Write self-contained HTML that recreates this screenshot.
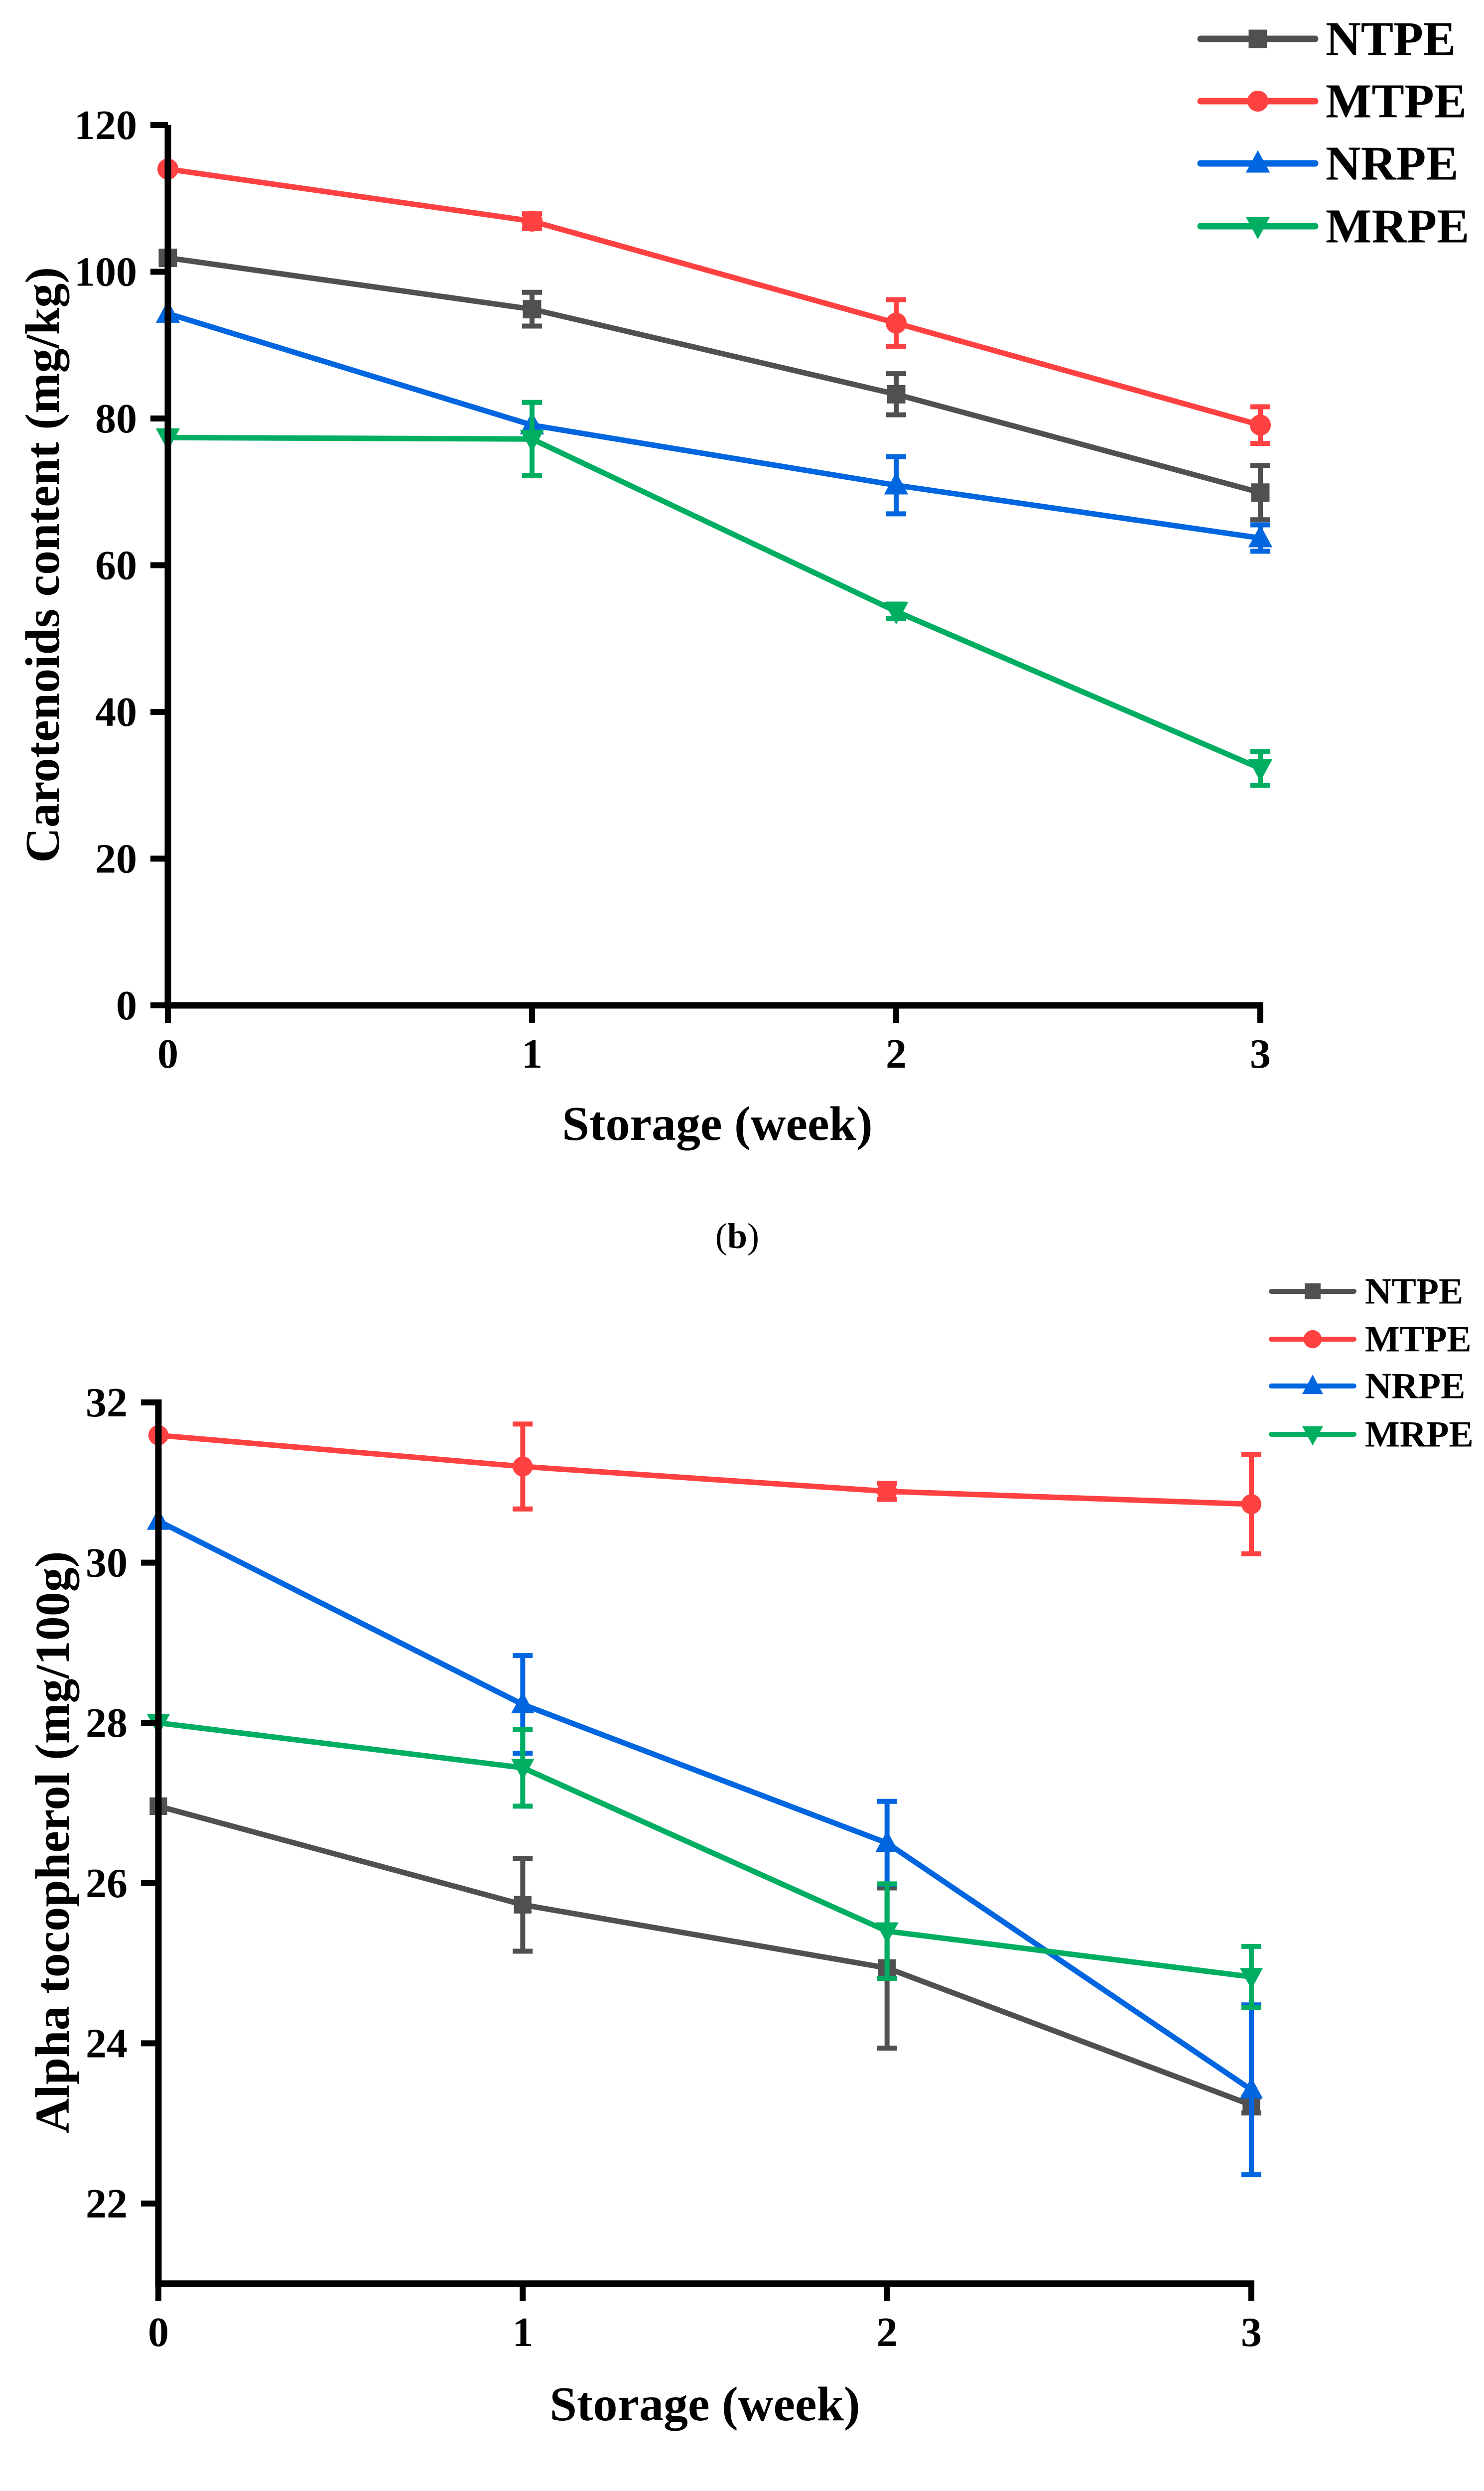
<!DOCTYPE html>
<html><head><meta charset="utf-8">
<style>
html,body{margin:0;padding:0;background:#fff;width:2979px;height:5125px;overflow:hidden;}
svg{display:block;font-family:"Liberation Serif",serif;}
</style></head>
<body>
<svg id="root" width="2979" height="5125" viewBox="0 0 2979 5125" xmlns="http://www.w3.org/2000/svg"></svg>
<script>
const weeks = [0, 1, 2, 3];
const seriesNames = ["NTPE", "MTPE", "NRPE", "MRPE"];
const carotNTPE = [101.9, 94.9, 83.3, 69.9];
const carotNTPEErr = [0, 2.3, 2.8, 3.7];
const carotMTPE = [114.0, 106.9, 93.0, 79.1];
const carotMTPEErr = [0, 1.0, 3.2, 2.5];
const carotNRPE = [94.3, 79.1, 70.9, 63.7];
const carotNRPEErr = [0, 0, 3.9, 1.8];
const carotMRPE = [77.4, 77.2, 53.7, 32.3];
const carotMRPEErr = [0, 5.0, 1.0, 2.3];
const carotTicks = [0, 20, 40, 60, 80, 100, 120];
const tocoNTPE = [26.96, 25.73, 24.94, 23.23];
const tocoNTPEErr = [0, 0.58, 1.0, 0.1];
const tocoMTPE = [31.59, 31.2, 30.89, 30.73];
const tocoMTPEErr = [0, 0.53, 0.1, 0.62];
const tocoNRPE = [30.52, 28.23, 26.5, 23.42];
const tocoNRPEErr = [0, 0.61, 0.52, 1.06];
const tocoMRPE = [28.0, 27.44, 25.4, 24.83];
const tocoMRPEErr = [0, 0.48, 0.59, 0.38];
const tocoTicks = [22, 24, 26, 28, 30, 32];

const NS = "http://www.w3.org/2000/svg";
const root = document.getElementById("root");
const colors = ["#505050", "#ff4141", "#0066e0", "#00ae62"];
const shapes = ["square", "circle", "up", "down"];

function mk(tag, attrs, parent) {
  const e = document.createElementNS(NS, tag);
  for (const k in attrs) e.setAttribute(k, attrs[k]);
  (parent || root).appendChild(e);
  return e;
}
function marker(g, shape, cx, cy, s, color) {
  let m;
  if (shape === "square") m = mk("rect", {x: cx - s*0.42, y: cy - s*0.42, width: s*0.84, height: s*0.84, fill: color}, g);
  else if (shape === "circle") m = mk("circle", {cx: cx, cy: cy, r: s*0.48, fill: color}, g);
  else if (shape === "up") m = mk("polygon", {points: `${cx},${cy - s*0.6} ${cx - s*0.55},${cy + s*0.42} ${cx + s*0.55},${cy + s*0.42}`, fill: color}, g);
  else m = mk("polygon", {points: `${cx},${cy + s*0.6} ${cx - s*0.55},${cy - s*0.42} ${cx + s*0.55},${cy - s*0.42}`, fill: color}, g);
  return m;
}

function chart(cfg) {
  const g = mk("g", {});
  
  
  const xs = v => cfg.x0 + (v - weeks[0]) * (cfg.x3 - cfg.x0) / (weeks[weeks.length-1] - weeks[0]);
  const ys = v => cfg.yA + (v - cfg.vA) * (cfg.yB - cfg.yA) / (cfg.vB - cfg.vA);
  const axTop = ys(cfg.ticks[cfg.ticks.length-1]) - (cfg.topExtra || 0);
  const axBot = ys(cfg.vMin);
  cfg.series.forEach((vals, i) => {
    const sg = mk("g", {}, g);
    
    
    const pts = vals.map((v, j) => xs(weeks[j]) + "," + ys(v)).join(" ");
    const pl = mk("polyline", {points: pts, fill: "none", stroke: colors[i], "stroke-width": 11, "stroke-linejoin": "round"}, sg);
    
    
    vals.forEach((v, j) => {
      const e = cfg.errs[i][j];
      if (e > 0) {
        const x = xs(weeks[j]);
        const eb = mk("path", {d: `M${x},${ys(v-e)}V${ys(v+e)}M${x-20},${ys(v+e)}H${x+20}M${x-20},${ys(v-e)}H${x+20}`, stroke: colors[i], "stroke-width": 10, fill: "none"}, sg);
        
        
      }
      const m = marker(sg, shapes[i], xs(weeks[j]), ys(v), cfg.ms, colors[i]);
      
      
    });
  });
  const ax = mk("path", {d: `M${cfg.x0},${axTop}V${axBot}H${cfg.x3+6}`, stroke: "#000", "stroke-width": 13, fill: "none"}, g);
  
  
  cfg.ticks.forEach(t => {
    const y = ys(t);
    const tk = mk("line", {x1: cfg.x0 - 35, x2: cfg.x0, y1: y, y2: y, stroke: "#000", "stroke-width": 12}, g);
    
    
    const tl = mk("text", {x: cfg.x0 - 62, y: y + 28, "text-anchor": "end", "font-size": 84, "font-weight": "bold"}, g);
    tl.textContent = t;
    
    
  });
  weeks.forEach(w => {
    const x = xs(w);
    const tk = mk("line", {x1: x, x2: x, y1: axBot, y2: axBot + 35, stroke: "#000", "stroke-width": 12}, g);
    
    
    const tl = mk("text", {x: x, y: axBot + 125, "text-anchor": "middle", "font-size": 84, "font-weight": "bold"}, g);
    tl.textContent = w;
    
    
  });
  const xt = mk("text", {x: cfg.xtX, y: cfg.xtY, "text-anchor": "middle", "font-size": 98, "font-weight": "bold"}, g);
  xt.textContent = "Storage (week)";
  
  
  const yt = mk("text", {x: 0, y: 0, "text-anchor": "middle", "font-size": 98, "font-weight": "bold", transform: `translate(${cfg.ytX},${cfg.ytY}) rotate(-90)`}, g);
  yt.textContent = cfg.ytitle;
  
  
  const cap = mk("text", {x: cfg.capX, y: cfg.capY, "text-anchor": "middle", "font-size": 72}, g);
  
  
  const t1 = mk("tspan", {}, cap); t1.textContent = "(";
  const t2 = mk("tspan", {"font-weight": "bold"}, cap); t2.textContent = cfg.cap;
  const t3 = mk("tspan", {}, cap); t3.textContent = ")";
  const lg = mk("g", {}, g);
  
  
  seriesNames.forEach((n, i) => {
    const y = cfg.lgY[i];
    const eg = mk("g", {}, lg);
    
    
    mk("line", {x1: cfg.lgX1, x2: cfg.lgX2, y1: y, y2: y, stroke: colors[i], "stroke-width": cfg.lgW, "stroke-linecap": "round"}, eg);
    marker(eg, shapes[i], (cfg.lgX1 + cfg.lgX2)/2, y, cfg.lgMs, colors[i]);
    const t = mk("text", {x: cfg.lgTX, y: y + cfg.lgFs*0.33, "font-size": cfg.lgFs, "font-weight": "bold"}, eg);
    t.textContent = n;
  });
}

chart({
  name: "carotenoids-chart", x0: 337, x3: 2530, yA: 2018, vA: 0, yB: 251, vB: 120, vMin: 0,
  ticks: carotTicks, series: [carotNTPE, carotMTPE, carotNRPE, carotMRPE],
  errs: [carotNTPEErr, carotMTPEErr, carotNRPEErr, carotMRPEErr], ms: 44,
  xtX: 1440, xtY: 2288, ytX: 118, ytY: 1134, ytitle: "Carotenoids content (mg/kg)",
  capX: 1480, capY: 2505, cap: "b",
  lgX1: 2410, lgX2: 2640, lgY: [78, 203, 328, 454], lgTX: 2661, lgFs: 98, lgW: 13, lgMs: 44
});
chart({
  name: "alpha-tocopherol-chart", x0: 318, x3: 2512, yA: 2815, vA: 32, yB: 4423, vB: 22, vMin: 21,
  ticks: tocoTicks, series: [tocoNTPE, tocoMTPE, tocoNRPE, tocoMRPE],
  errs: [tocoNTPEErr, tocoMTPEErr, tocoNRPEErr, tocoMRPEErr], ms: 42, topExtra: 6,
  xtX: 1415, xtY: 4858, ytX: 138, ytY: 3698, ytitle: "Alpha tocopherol (mg/100g)",
  capX: 1470, capY: 5075, cap: "c",
  lgX1: 2552, lgX2: 2718, lgY: [2592, 2688, 2782, 2879], lgTX: 2740, lgFs: 74, lgW: 10, lgMs: 38
});
</script>
</body></html>
